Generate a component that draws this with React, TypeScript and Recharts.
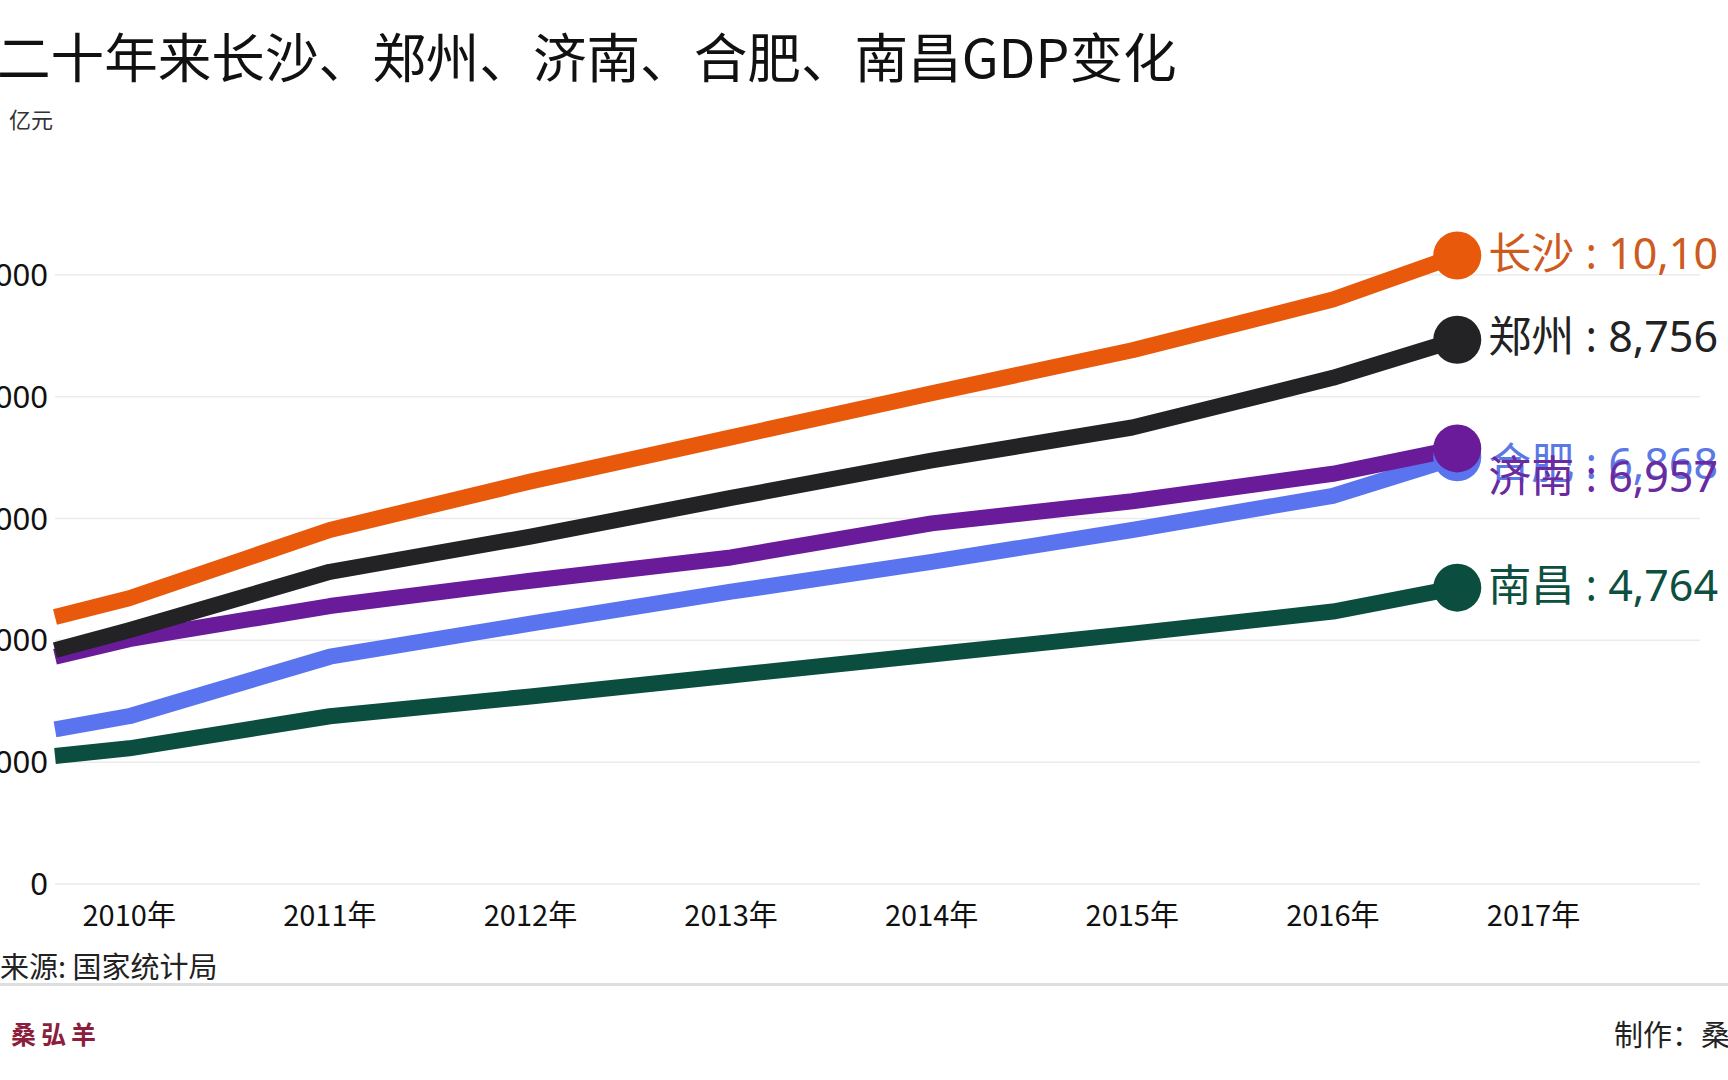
import { CartesianGrid, Line, LineChart, XAxis, YAxis } from "recharts";

// x positions of the frame: left edge of the window, the years, and the head of the animated line
const years = [2009.63, 2010, 2011, 2012, 2013, 2014, 2015, 2016, 2016.62];
const yearTicks = [2010, 2011, 2012, 2013, 2014, 2015, 2016, 2017];
const valueTicks = [0, 2000, 4000, 6000, 8000, 10000];

// GDP, 亿元
const changsha = [4383, 4690, 5812, 6608, 7332, 8056, 8762, 9594, 10317];
const zhengzhou = [3839, 4166, 5125, 5703, 6337, 6952, 7494, 8309, 8935];
const jinan = [3731, 4020, 4563, 4979, 5360, 5920, 6283, 6734, 7150];
const hefei = [2537, 2754, 3731, 4274, 4798, 5287, 5811, 6373, 7006];
const nanchang = [2102, 2228, 2754, 3079, 3424, 3767, 4110, 4473, 4865];

const cities = ["南昌", "合肥", "济南", "郑州", "长沙"];
const shownValues = ["4,764", "6,868", "6,957", "8,756", "10,10"];

const data = years.map((x, i) => ({
  x,
  nanchang: nanchang[i],
  hefei: hefei[i],
  jinan: jinan[i],
  zhengzhou: zhengzhou[i],
  changsha: changsha[i],
}));

const series = [
  { key: "nanchang", color: "#0b4d3e", text: "#0d4f40", dy: -3 },
  { key: "hefei", color: "#5a74f0", text: "#5c78e4", dy: 5 },
  { key: "jinan", color: "#6a1b9a", text: "#6a2aa0", dy: 27 },
  { key: "zhengzhou", color: "#232326", text: "#222222", dy: -4 },
  { key: "changsha", color: "#e8590c", text: "#cd5b1e", dy: -3 },
];

const cjk = '"Noto Sans CJK SC", "Noto Sans", sans-serif';
const latinFirst = '"Noto Sans", "Noto Sans CJK SC", sans-serif';

function endDot(p: any, s: any, i: number) {
  const { cx, cy, index } = p;
  if (index !== years.length - 1) return <g key={`d-${s.key}-${index}`} />;
  return (
    <g key={`d-${s.key}-${index}`}>
      <circle cx={cx} cy={cy} r={24} fill={s.color} />
      <text
        x={cx + 31}
        y={cy + s.dy}
        fill={s.text}
        fontSize={43}
        fontFamily={latinFirst}
        dominantBaseline="central"
      >
        {cities[i]} : {shownValues[i]}
      </text>
    </g>
  );
}

function YearTick(p: any) {
  return (
    <text
      x={p.x}
      y={p.y + 29}
      textAnchor="middle"
      dominantBaseline="central"
      fontSize={29}
      fontFamily={cjk}
      fill="#111"
    >
      {p.payload.value}年
    </text>
  );
}

export default function App() {
  return (
    <div
      style={{
        position: "fixed",
        left: 0,
        top: 0,
        width: 1728,
        height: 1080,
        overflow: "hidden",
        background: "#fff",
        fontFamily: cjk,
        color: "#111",
      }}
    >
      <div
        style={{
          position: "absolute",
          left: -3,
          top: 28,
          fontSize: 53.6,
          lineHeight: "54px",
          fontWeight: 400,
          whiteSpace: "nowrap",
        }}
      >
        二十年来长沙、郑州、济南、合肥、南昌GDP变化
      </div>
      <div style={{ position: "absolute", left: 9, top: 107, fontSize: 22, lineHeight: "22px", color: "#333" }}>
        亿元
      </div>

      <div style={{ position: "absolute", left: -60, top: 0 }}>
        <LineChart
          width={1900}
          height={1080}
          data={data}
          margin={{ top: 153, right: 140, bottom: 166, left: 0 }}
        >
          <CartesianGrid
            horizontal
            vertical={false}
            horizontalValues={valueTicks}
            stroke="#ebebeb"
            strokeWidth={1.5}
          />
          <XAxis
            dataKey="x"
            type="number"
            domain={[2009.63, 2017.83]}
            ticks={yearTicks}
            tick={<YearTick />}
            height={30}
            axisLine={false}
            tickLine={false}
            tickSize={0}
            tickMargin={0}
            interval={0}
          />
          <YAxis
            type="number"
            domain={[0, 12000]}
            ticks={valueTicks}
            width={115}
            axisLine={false}
            tickLine={false}
            tickSize={0}
            tickMargin={7}
            tick={{ fontSize: 31, fill: "#111", fontFamily: '"Noto Sans", sans-serif' }}
            tickFormatter={(v: number) => v.toLocaleString("en-US")}
          />
          {series.map((s, i) => (
            <Line
              key={s.key}
              dataKey={s.key}
              type="linear"
              stroke={s.color}
              strokeWidth={16}
              strokeLinejoin="round"
              dot={(p: any) => endDot(p, s, i)}
              activeDot={false}
              isAnimationActive={false}
            />
          ))}
        </LineChart>
      </div>

      <div style={{ position: "absolute", left: 0, top: 950, fontSize: 29, lineHeight: "30px", color: "#222", whiteSpace: "nowrap" }}>
        来源: 国家统计局
      </div>
      <div style={{ position: "absolute", left: 0, top: 983, width: 1728, height: 3, background: "#dedede" }} />
      <div
        style={{
          position: "absolute",
          left: 11,
          top: 1020,
          fontSize: 25,
          lineHeight: "26px",
          fontWeight: 700,
          letterSpacing: 5,
          color: "#8b1d3d",
          whiteSpace: "nowrap",
        }}
      >
        桑弘羊
      </div>
      <div style={{ position: "absolute", left: 1614, top: 1018, fontSize: 29, lineHeight: "30px", color: "#222", whiteSpace: "nowrap" }}>
        制作：桑弘羊
      </div>
    </div>
  );
}
